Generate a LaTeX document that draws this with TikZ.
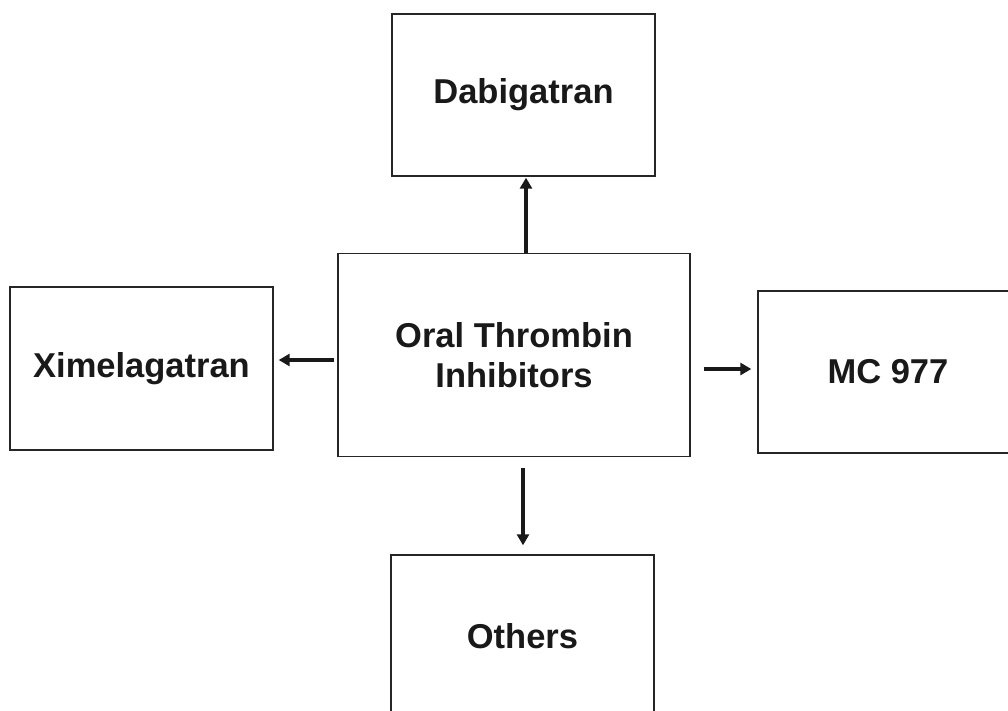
\documentclass[tikz,border=0pt]{standalone}
\usepackage{fontspec}
\setmainfont{Liberation Sans}
\usetikzlibrary{arrows.meta}
\begin{document}
\begin{tikzpicture}[x=1pt,y=-1pt,
  box/.style={draw=black!85,line width=1.4pt,rectangle,inner sep=0pt,align=center,
    font=\fontsize{34.5}{40}\selectfont\bfseries, text=black!90},
  arr/.style={line width=3.2pt,-{Triangle[length=11pt,width=12pt]},black!90}]
\useasboundingbox (0,0) rectangle (1008,711);
\clip (0,0) rectangle (1008,711);
\fill[white] (0,0) rectangle (1008,711);
\node[box,minimum width=263pt,minimum height=162pt] (dab) at (523.5,95) {Dabigatran};
\node[box,minimum width=352pt,minimum height=203pt] (c) at (514,355) {Oral Thrombin\\Inhibitors};
\node[box,minimum width=263pt,minimum height=163pt] (xim) at (141.5,368.5) {Ximelagatran};
\node[box,minimum width=260pt,minimum height=162pt] (mc) at (888,372) {MC 977};
\node[box,minimum width=263pt,minimum height=162pt] (oth) at (522.5,636) {Others};
\draw[arr] ([xshift=12pt]c.north) -- ([xshift=2.5pt,yshift=-1pt]dab.south);
\draw[arr] ([xshift=9pt,yshift=-11pt]c.south) -- ([xshift=0.5pt,yshift=9pt]oth.north);
\draw[arr] ([xshift=-3pt,yshift=-5pt]c.west) -- ([xshift=5pt,yshift=8.5pt]xim.east);
\draw[arr] ([xshift=13pt,yshift=-14pt]c.east) -- ([xshift=-6pt,yshift=3pt]mc.west);
\end{tikzpicture}
\end{document}
